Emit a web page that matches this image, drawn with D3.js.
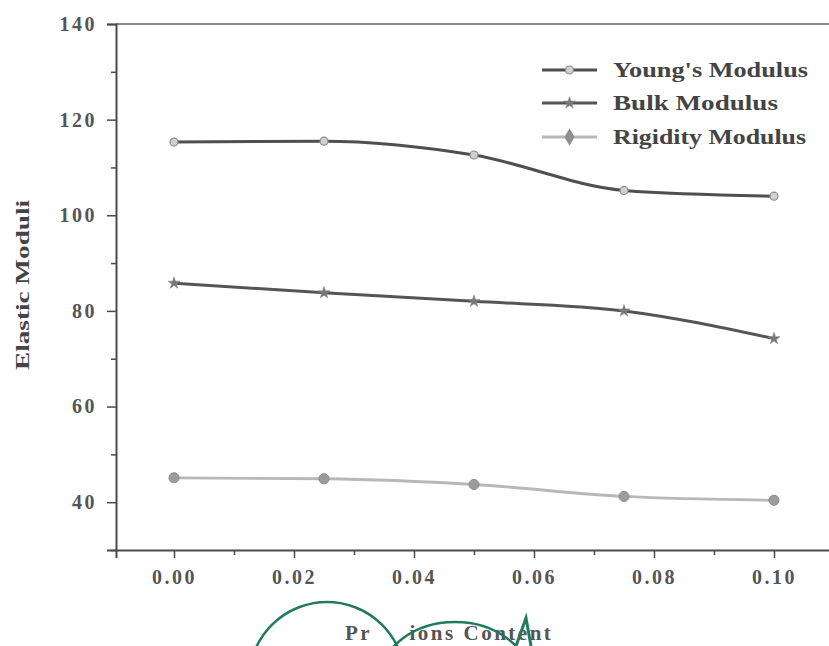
<!DOCTYPE html>
<html>
<head>
<meta charset="utf-8">
<script src="https://cdn.jsdelivr.net/npm/d3@7/dist/d3.min.js"></script>
<style>
  html, body { margin: 0; padding: 0; background: #fff; }
  svg { display: block; }
  text { font-family: "Liberation Serif", "DejaVu Serif", serif; }
</style>
</head>
<body>
<svg id="chart" width="829" height="646"></svg>
<script>
// ---- data ----
const xValues = [0.000, 0.025, 0.050, 0.075, 0.100];
const youngs = [115.3, 115.5, 112.6, 105.2, 104.0];
const bulk = [85.8, 83.8, 82.0, 80.0, 74.2];
const rigidity = [45.1, 44.9, 43.7, 41.2, 40.4];
const seriesNames = ["Young's Modulus", "Bulk Modulus", "Rigidity Modulus"];
const yMajorTicks = [40, 60, 80, 100, 120, 140];
const yMinorTicks = [30, 50, 70, 90, 110, 130];
const xMajorTicks = [0.00, 0.02, 0.04, 0.06, 0.08, 0.10];
const xMinorTicks = [0.01, 0.03, 0.05, 0.07, 0.09];
const xTitleParts = ["Pr", "ions Content"];
const yTitle = "Elastic Moduli";

(function () {
const svg = d3.select("#chart");
const pLeft = 116, pRight = 834, pTop = 24, pBottom = 550;

const x = d3.scaleLinear().domain([-0.00967, 0.11]).range([pLeft, pRight]);
const y = d3.scaleLinear().domain([30, 140]).range([pBottom, pTop]);

const axisColor = "#4a4a4a";
const textColor = "#555";

// frame top line
svg.append("line")
  .attr("x1", pLeft).attr("x2", 829).attr("y1", y(140)).attr("y2", y(140))
  .attr("stroke", "#666").attr("stroke-width", 1.5);

// y axis
svg.append("g").attr("transform", `translate(${pLeft},0)`)
  .call(d3.axisLeft(y).tickValues(yMajorTicks).tickSize(9).tickPadding(10).tickFormat(d3.format("d")));
svg.append("g").attr("transform", `translate(${pLeft},0)`)
  .call(d3.axisLeft(y).tickValues(yMinorTicks).tickSize(5).tickFormat(""))
  .select(".domain").remove();

// x axis
svg.append("g").attr("transform", `translate(0,${pBottom})`)
  .call(d3.axisBottom(x).tickValues(xMajorTicks).tickSize(8).tickPadding(12).tickFormat(d3.format(".2f")));
svg.append("g").attr("transform", `translate(0,${pBottom})`)
  .call(d3.axisBottom(x).tickValues(xMinorTicks).tickSize(5).tickFormat(""))
  .select(".domain").remove();

svg.selectAll(".domain").attr("stroke", axisColor).attr("stroke-width", 2);
svg.selectAll(".tick line").attr("stroke", axisColor).attr("stroke-width", 1.5);
svg.selectAll(".tick text")
  .attr("fill", textColor)
  .style("font-family", "'Liberation Serif', serif")
  .style("font-size", "20px")
  .style("font-weight", "bold")
  .style("letter-spacing", "2.5px");

// lines
const line = d3.line().x((d, i) => x(xValues[i])).y(d => y(d)).curve(d3.curveMonotoneX);

const series = [
  { name: seriesNames[0], values: youngs, color: "#4f4f4f", w: 3, sym: "circle" },
  { name: seriesNames[1], values: bulk, color: "#555", w: 3, sym: "star" },
  { name: seriesNames[2], values: rigidity, color: "#b8b8b8", w: 2.8, sym: "diamond" }
];

function drawMarker(g, sym, cx, cy) {
  if (sym === "circle") {
    g.append("circle").attr("cx", cx).attr("cy", cy).attr("r", 4)
      .attr("fill", "#d0d0d0").attr("stroke", "#8a8a8a").attr("stroke-width", 1.2);
  } else if (sym === "star") {
    g.append("path").attr("d", d3.symbol().type(d3.symbolStar).size(45)())
      .attr("transform", `translate(${cx},${cy})`).attr("fill", "#777").attr("stroke", "#888").attr("stroke-width", 0.6);
  } else {
    g.append("path").attr("d", d3.symbol().type(d3.symbolCircle).size(80)())
      .attr("transform", `translate(${cx},${cy})`).attr("fill", "#9c9c9c").attr("stroke", "#8a8a8a").attr("stroke-width", 1);
  }
}

series.forEach(s => {
  svg.append("path").datum(s.values).attr("d", line)
    .attr("fill", "none").attr("stroke", s.color).attr("stroke-width", s.w);
  const g = svg.append("g");
  s.values.forEach((v, i) => drawMarker(g, s.sym, x(xValues[i]), y(v)));
});

// legend
const legX1 = 542, legX2 = 597, legTextX = 613;
const legY = [70, 103, 137];
const legWidths = [195, 165, 193];
series.forEach((s, i) => {
  svg.append("line").attr("x1", legX1).attr("x2", legX2).attr("y1", legY[i]).attr("y2", legY[i])
    .attr("stroke", s.color).attr("stroke-width", 2.8);
  const g = svg.append("g");
  if (s.sym === "diamond") {
    g.append("path").attr("d", d3.symbol().type(d3.symbolDiamond).size(90)())
      .attr("transform", `translate(${(legX1 + legX2) / 2},${legY[i]})`).attr("fill", "#8f8f8f");
  } else {
    drawMarker(g, s.sym, (legX1 + legX2) / 2, legY[i]);
  }
  svg.append("text").attr("x", legTextX).attr("y", legY[i] + 7)
    .attr("fill", "#444").style("font-size", "21px").style("font-weight", "bold")
    .attr("textLength", legWidths[i]).attr("lengthAdjust", "spacingAndGlyphs")
    .text(s.name);
});

// axis titles
svg.append("text")
  .attr("transform", `translate(29,${(200 + 370) / 2}) rotate(-90)`)
  .attr("text-anchor", "middle").attr("fill", "#444")
  .style("font-size", "19px").style("font-weight", "bold")
  .attr("textLength", 170).attr("lengthAdjust", "spacingAndGlyphs")
  .text(yTitle);

const xt = svg.append("text")
  .attr("x", 345).attr("y", 640).attr("fill", "#555")
  .style("font-size", "21px").style("font-weight", "bold").style("letter-spacing", "2.5px");
xt.append("tspan").text(xTitleParts[0]);
xt.append("tspan").attr("dx", 30).text(" " + xTitleParts[1]);

// green ink annotations on the scan
const ink = "#1f7a5e";
svg.append("ellipse").attr("cx", 327).attr("cy", 680).attr("rx", 78).attr("ry", 78)
  .attr("fill", "none").attr("stroke", ink).attr("stroke-width", 2.5);
svg.append("ellipse").attr("cx", 455).attr("cy", 680).attr("rx", 75).attr("ry", 58)
  .attr("fill", "none").attr("stroke", ink).attr("stroke-width", 2.5);
svg.append("path").attr("d", "M516,646 L526,618 L531,646")
  .attr("fill", "none").attr("stroke", ink).attr("stroke-width", 3);
})();
</script>
</body>
</html>
